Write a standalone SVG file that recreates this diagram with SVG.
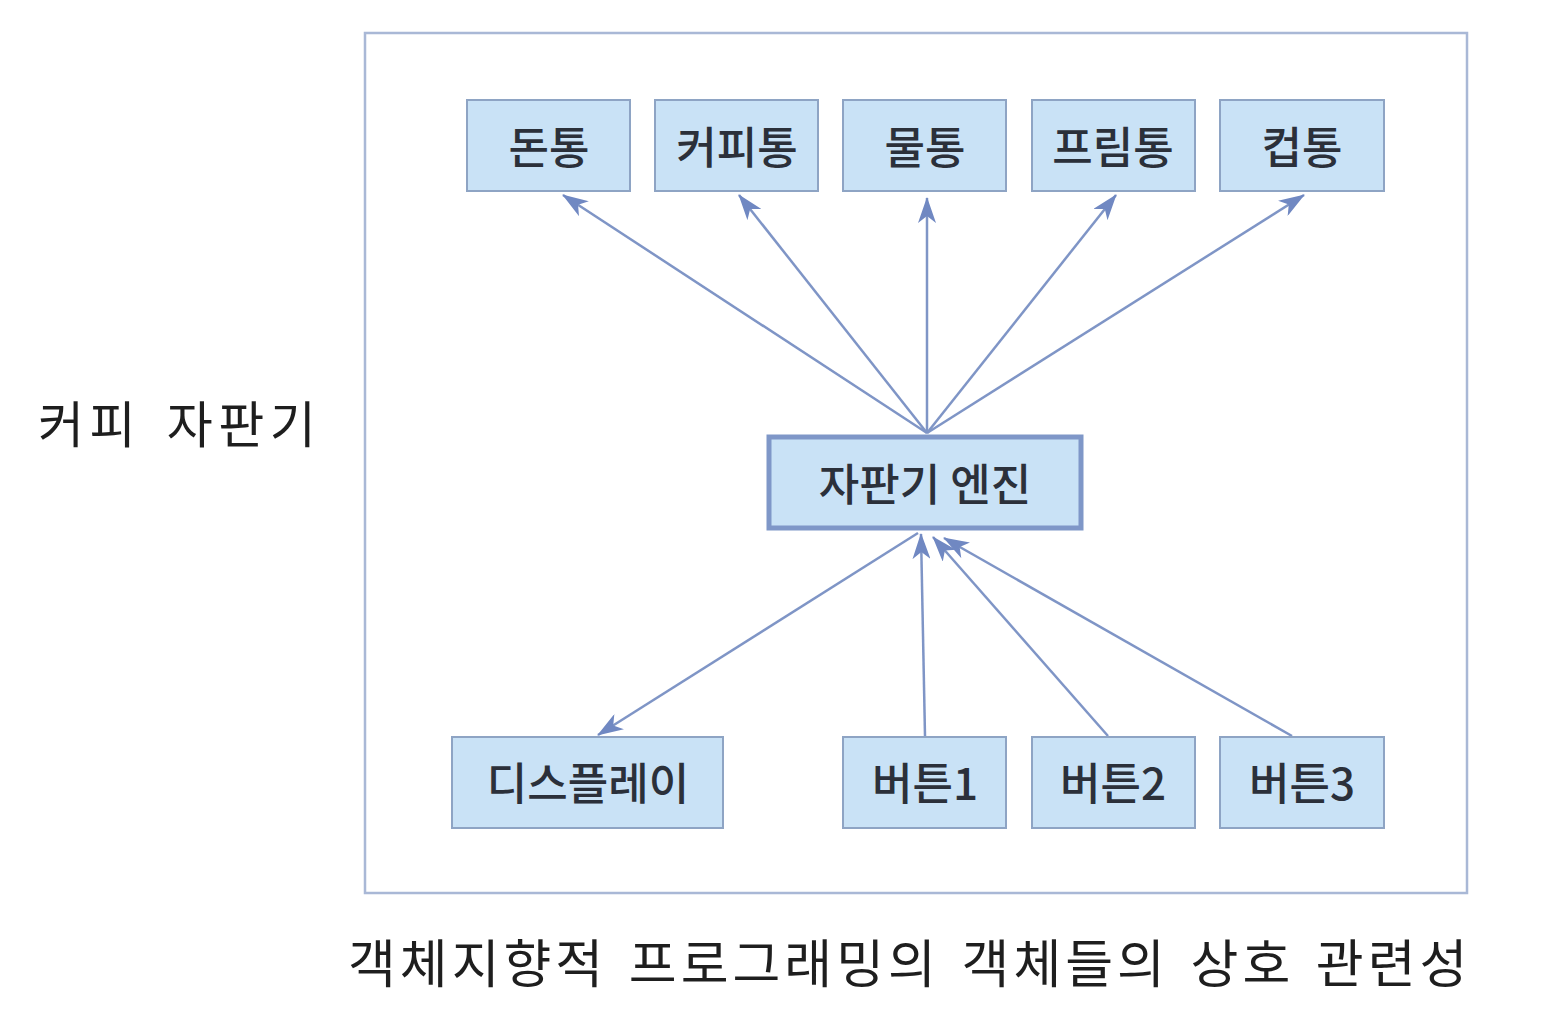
<svg xmlns="http://www.w3.org/2000/svg" width="1556" height="1010" viewBox="0 0 1556 1010">
<style>
.box{fill:#c9e2f6;stroke:#8ea4c4;stroke-width:2}
.eng{fill:#c9e2f6;stroke:#7f97c8;stroke-width:5}
.lbl{font-family:"Noto Sans CJK KR","Noto Sans",sans-serif;font-size:44px;font-weight:500;fill:#2b303a;text-anchor:middle;dominant-baseline:central}
.cap{font-family:"Noto Sans CJK KR","Noto Sans",sans-serif;fill:#1e1e1e}
.ln{stroke:#7f95c6;stroke-width:2.5;fill:none;marker-end:url(#ah)}
</style>
<defs>
<marker id="ah" viewBox="0 0 26 18" refX="25" refY="9" markerWidth="26" markerHeight="18" markerUnits="userSpaceOnUse" orient="auto">
<path d="M0,0 L26,9 L0,18 L7,9 Z" fill="#7088c2"/>
</marker>
</defs>
<rect width="1556" height="1010" fill="#ffffff"/>
<rect id="frame" x="365" y="33" width="1102" height="860" fill="none" stroke="#a9b8d6" stroke-width="2.5"/>
<g id="connectors">
<line class="ln" x1="927" y1="433" x2="563" y2="195"/>
<line class="ln" x1="927" y1="433" x2="739" y2="195"/>
<line class="ln" x1="927" y1="433" x2="927" y2="198"/>
<line class="ln" x1="927" y1="433" x2="1116" y2="195"/>
<line class="ln" x1="927" y1="433" x2="1304" y2="195"/>
<line class="ln" x1="918" y1="533" x2="598" y2="735"/>
<line class="ln" x1="925" y1="736" x2="921" y2="534"/>
<line class="ln" x1="1108" y1="736" x2="933" y2="537"/>
<line class="ln" x1="1292" y1="736" x2="944" y2="538"/>
</g>
<g id="n-dontong"><rect class="box" x="467" y="100" width="163" height="91"/><text class="lbl" x="549" y="145">돈통</text></g>
<g id="n-coffee"><rect class="box" x="655" y="100" width="163" height="91"/><text class="lbl" x="737" y="145">커피통</text></g>
<g id="n-water"><rect class="box" x="843" y="100" width="163" height="91"/><text class="lbl" x="925" y="145">물통</text></g>
<g id="n-cream"><rect class="box" x="1032" y="100" width="163" height="91"/><text class="lbl" x="1113" y="145">프림통</text></g>
<g id="n-cup"><rect class="box" x="1220" y="100" width="164" height="91"/><text class="lbl" x="1302" y="145">컵통</text></g>
<g id="n-engine"><rect class="eng" x="769" y="437" width="312" height="91"/><text class="lbl" x="925" y="482">자판기 엔진</text></g>
<g id="n-display"><rect class="box" x="452" y="737" width="271" height="91"/><text class="lbl" x="588" y="781">디스플레이</text></g>
<g id="n-btn1"><rect class="box" x="843" y="737" width="163" height="91"/><text class="lbl" x="925" y="781">버튼1</text></g>
<g id="n-btn2"><rect class="box" x="1032" y="737" width="163" height="91"/><text class="lbl" x="1113" y="781">버튼2</text></g>
<g id="n-btn3"><rect class="box" x="1220" y="737" width="164" height="91"/><text class="lbl" x="1302" y="781">버튼3</text></g>
<text class="cap" x="38" y="443" font-size="50" letter-spacing="5.5" word-spacing="9">커피 자판기</text>
<text class="cap" x="348" y="983" font-size="52" letter-spacing="4" word-spacing="6">객체지향적 프로그래밍의 객체들의 상호 관련성</text>
</svg>
